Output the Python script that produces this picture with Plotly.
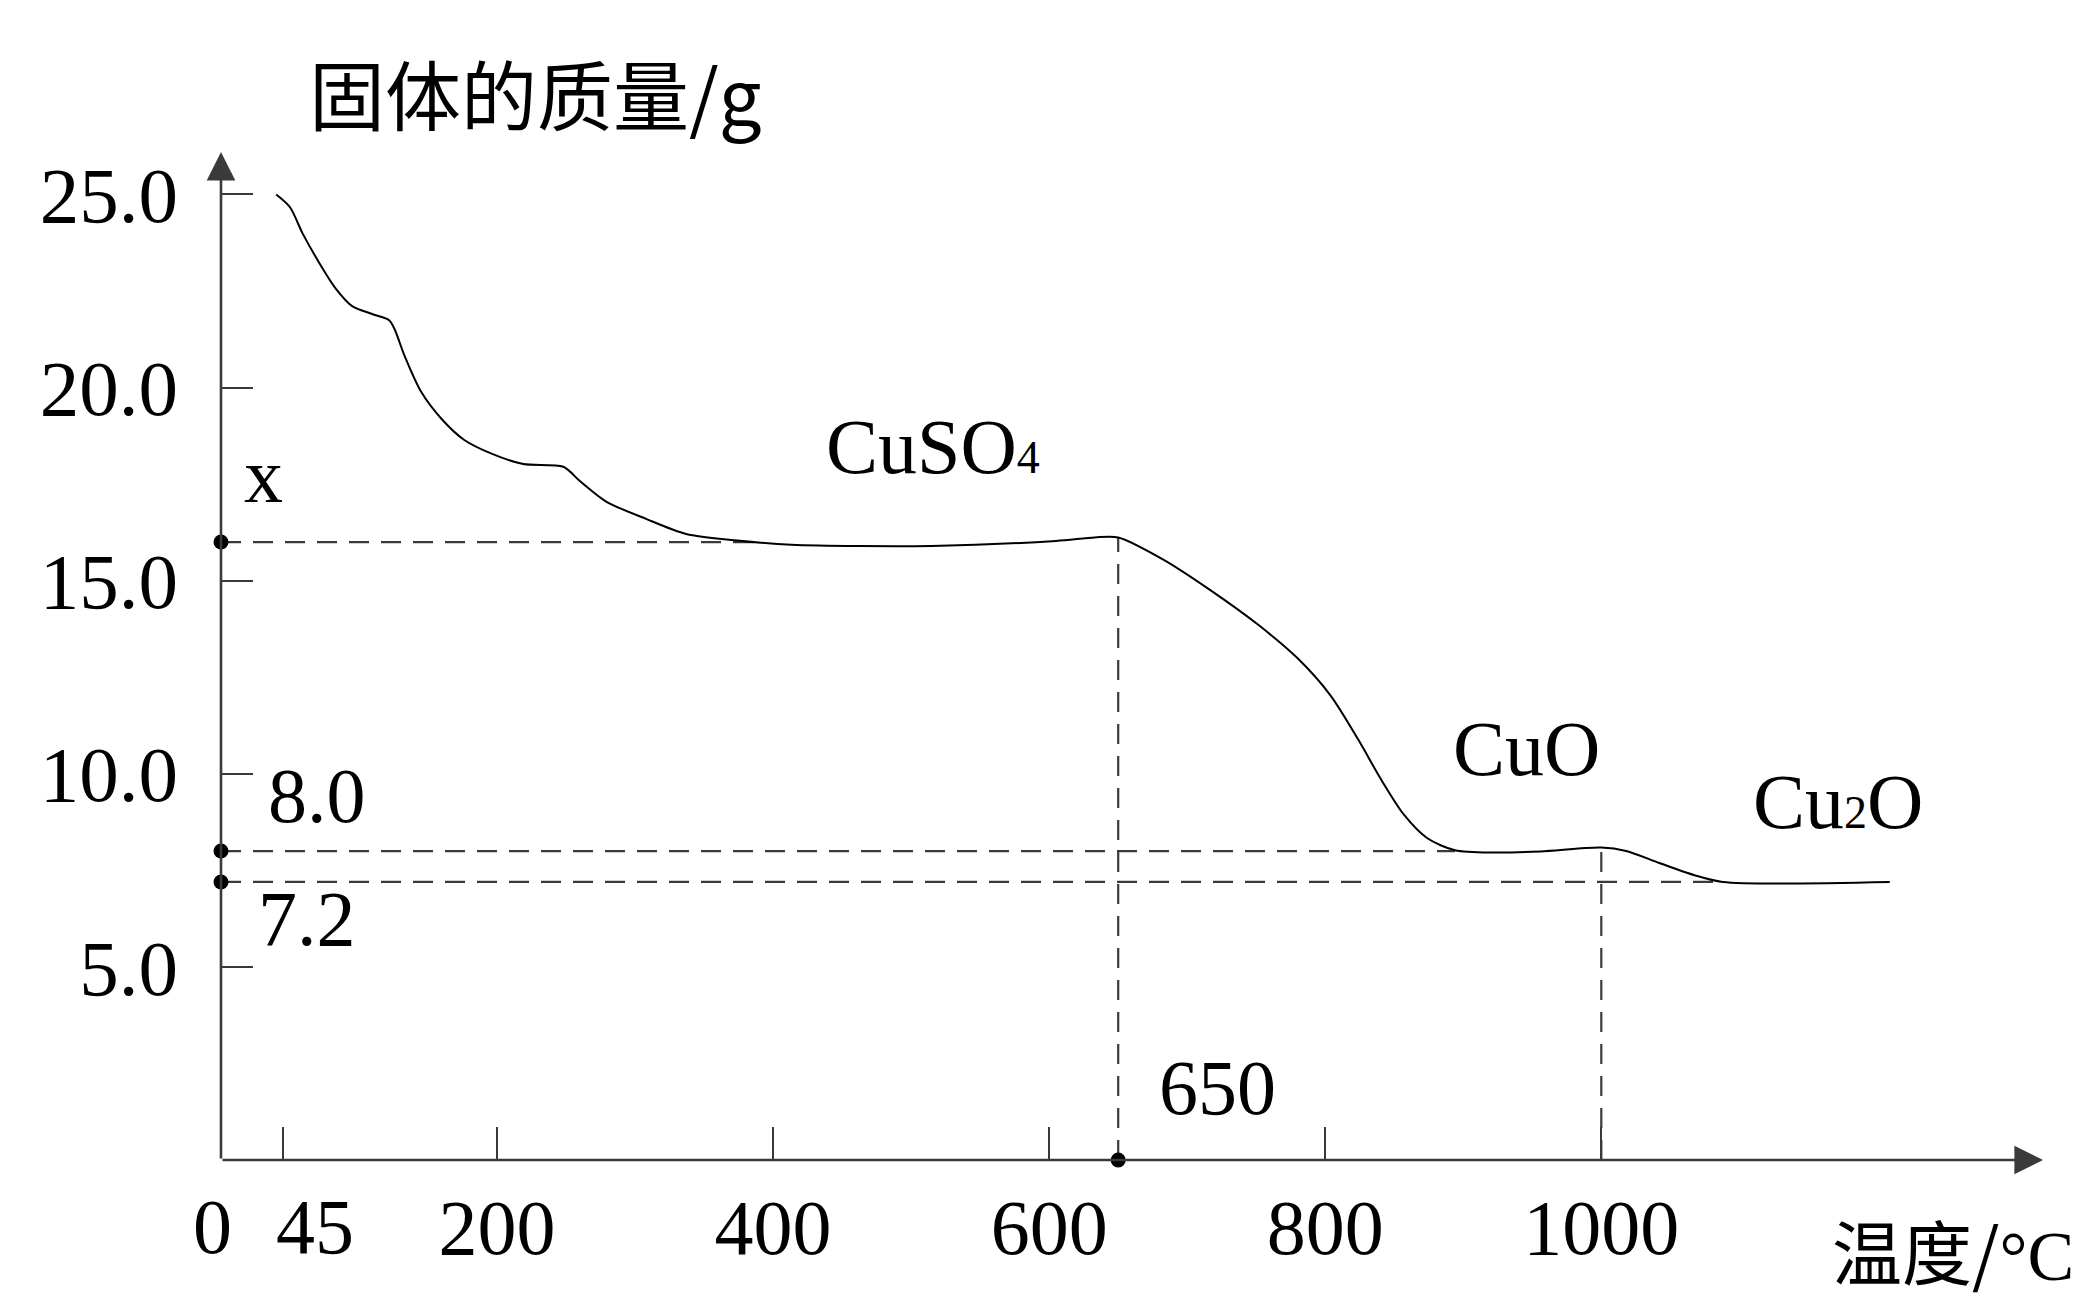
import numpy as np
import plotly.graph_objects as go

# ---------------- data ----------------
temp_c = [40, 50, 59, 71, 83, 95, 110, 122, 126, 133, 145, 160, 176, 196, 219,
          248, 260, 279, 308, 337, 374, 413, 515, 605, 633, 650, 683, 717, 751,
          780, 804, 824, 841, 857, 874, 894, 923, 956, 1000, 1018, 1042, 1067,
          1088, 1209]
mass_g = [25.0, 24.67, 24.0, 23.24, 22.57, 22.11, 21.9, 21.74, 21.49, 20.82,
          19.89, 19.18, 18.65, 18.29, 18.02, 17.95, 17.58, 17.05, 16.6, 16.21,
          16.04, 15.93, 15.9, 16.03, 16.12, 16.12, 15.54, 14.75, 13.87, 12.99,
          12.02, 10.88, 9.82, 8.94, 8.33, 8.02, 7.96, 7.99, 8.09, 8.0, 7.69,
          7.38, 7.2, 7.2]

x_tick_vals = [0, 45, 200, 400, 600, 800, 1000]
x_tick_text = ["0", "45", "200", "400", "600", "800", "1000"]
x_offset_labels = 2          # "0" and "45" are written beside their ticks
y_tick_vals = [5, 10, 15, 20, 25]
y_tick_text = ["5.0", "10.0", "15.0", "20.0", "25.0"]

mark_masses = [16.0, 8.0, 7.2]          # dots on the y axis
mark_mass_labels = ["x", "8.0", "7.2"]
h_guide_end_temp = [390, 894, 1088]     # where each horizontal guide meets the curve
v_guide_temps = [650, 1000]             # vertical guides
v_guide_label = "650"

SUB = "<span style='font-size:46px;font-family:Liberation Serif'>{}</span>"
phase_labels = ["CuSO" + SUB.format("4"), "CuO", "Cu" + SUB.format("2") + "O"]

y_title = "固体的质量/g"
x_title = "温度/<span style='font-family:Liberation Serif'>°C</span>"

# ---------------- layout geometry ----------------
OFF = 8                      # page body margin that the figure sits inside
W, H = 2075, 1295
L, R, T, B = 213, 40, 144, 143
XMAX, YMAX = 1320, 26.1
PW, PH = W - L - R, H - T - B


def px_x(px):               # page pixel -> paper fraction
    return (px - OFF - L) / PW


def px_y(py):
    return (H - B - (py - OFF)) / PH


INK = "#000000"
AXIS = "#3a3a3a"
SERIF = "Liberation Serif, Times New Roman, serif"
CJK = "Noto Sans CJK SC, sans-serif"

fig = go.Figure()

# dashed guides
dash = "20px,12px"
for m, xe in zip(mark_masses, h_guide_end_temp):
    fig.add_trace(go.Scatter(x=[0, xe], y=[m, m], mode="lines",
                             line=dict(color=AXIS, width=2.2, dash=dash),
                             hoverinfo="skip", showlegend=False))
for tv in v_guide_temps:
    top = float(np.interp(tv, temp_c, mass_g))
    fig.add_trace(go.Scatter(x=[tv, tv], y=[0, top], mode="lines",
                             line=dict(color=AXIS, width=2.2, dash=dash),
                             hoverinfo="skip", showlegend=False))

# the curve
fig.add_trace(go.Scatter(x=temp_c, y=mass_g, mode="lines",
                         line=dict(color=INK, width=2, shape="spline", smoothing=0.8),
                         hoverinfo="skip", showlegend=False))

# dots
fig.add_trace(go.Scatter(x=[0] * len(mark_masses) + [v_guide_temps[0]],
                         y=mark_masses + [0], mode="markers",
                         marker=dict(color=INK, size=15),
                         cliponaxis=False, hoverinfo="skip", showlegend=False))

axis_tick_text = [""] * x_offset_labels + x_tick_text[x_offset_labels:]
fig.update_xaxes(range=[0, XMAX], showgrid=False, zeroline=False, showline=False,
                 ticks="inside", ticklen=33, tickwidth=2, tickcolor=AXIS,
                 tickvals=x_tick_vals, ticktext=axis_tick_text, tickangle=0,
                 automargin=False,
                 tickfont=dict(family=SERIF, size=78, color=INK),
                 ticklabelstandoff=15)
fig.update_yaxes(range=[0, YMAX], showgrid=False, zeroline=False, showline=False,
                 ticks="inside", ticklen=32, tickwidth=2, tickcolor=AXIS,
                 tickvals=y_tick_vals, ticktext=y_tick_text, tickangle=0,
                 automargin=False,
                 tickfont=dict(family=SERIF, size=79, color=INK),
                 ticklabelstandoff=42)

ann = []
# axis arrows
for xa, ya in [(XMAX, 0), (0, YMAX)]:
    ann.append(dict(x=xa, y=ya, ax=0, ay=0, xref="x", yref="y", axref="x", ayref="y",
                    text="", showarrow=True, arrowhead=2, arrowsize=2.2, arrowwidth=2.6,
                    arrowcolor=AXIS, standoff=0, startstandoff=0))


def label(text, px, py, xanchor="center", yanchor="middle", size=78, family=SERIF):
    ann.append(dict(text=text, x=px_x(px), y=px_y(py), xref="paper", yref="paper",
                    xanchor=xanchor, yanchor=yanchor, showarrow=False,
                    font=dict(family=family, size=size, color=INK)))


# "0" and "45" tick labels, drawn beside their ticks as in the reference
label(x_tick_text[0], 212, 1226)
label(x_tick_text[1], 315, 1226)

label(mark_mass_labels[0], 263, 475)
label(mark_mass_labels[1], 317, 795)
label(mark_mass_labels[2], 307, 918)
label(v_guide_label, 1217, 1087)
label(phase_labels[0], 824, 447, xanchor="left")
label(phase_labels[1], 1526, 748)
label(phase_labels[2], 1751, 802, xanchor="left")
label(y_title, 307, 92, xanchor="left", size=76, family=CJK)
label(x_title, 2076, 1249, xanchor="right", yanchor="middle", size=70, family=CJK)

fig.update_layout(width=W, height=H, margin=dict(l=L, r=R, t=T, b=B, pad=0),
                  paper_bgcolor="white", plot_bgcolor="white",
                  annotations=ann, showlegend=False)

fig.write_html("out.html")
